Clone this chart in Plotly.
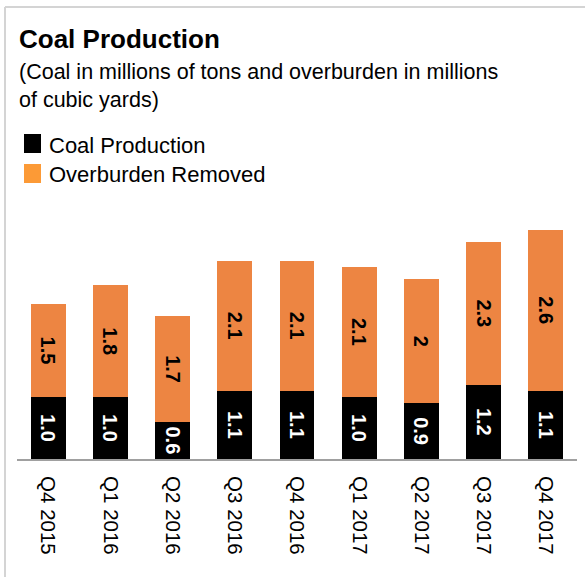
import plotly.graph_objects as go

# Quarterly data
quarters = ["Q4 2015", "Q1 2016", "Q2 2016", "Q3 2016", "Q4 2016",
            "Q1 2017", "Q2 2017", "Q3 2017", "Q4 2017"]
coal_production = [1.0, 1.0, 0.6, 1.1, 1.1, 1.0, 0.9, 1.2, 1.1]        # millions of tons
overburden_removed = [1.5, 1.8, 1.7, 2.1, 2.1, 2.1, 2.0, 2.3, 2.6]     # millions of cubic yards

series_names = ["Coal Production", "Overburden Removed"]
title_text = "Coal Production"
subtitle_lines = ["(Coal in millions of tons and overburden in millions",
                  "of cubic yards)"]

FONT = "Liberation Sans, Arial, Helvetica, sans-serif"
COAL_COLOR = "#000000"
OB_COLOR = "#ED8542"
OB_LEGEND_COLOR = "#FC9A36"

W, H = 585, 577
M_L, M_R, M_T, M_B = 17, 8, 211, 118
PLOT_W = W - M_L - M_R
PLOT_H = H - M_T - M_B


def px_x(px):
    return (px - M_L) / PLOT_W


def px_y(py):
    return (H - M_B - py) / PLOT_H


fig = go.Figure()

fig.add_trace(go.Bar(
    x=quarters, y=coal_production, name=series_names[0],
    marker=dict(color=COAL_COLOR, line=dict(width=0)),
    texttemplate="%{y:.1f}", textposition="inside", insidetextanchor="middle",
    textangle=90, constraintext="none",
    textfont=dict(family=FONT, size=20, color="white", weight="bold"),
    showlegend=False, hoverinfo="skip",
))
fig.add_trace(go.Bar(
    x=quarters, y=overburden_removed, name=series_names[1],
    marker=dict(color=OB_COLOR, line=dict(width=0)),
    texttemplate="%{y}", textposition="inside", insidetextanchor="middle",
    textangle=90, constraintext="none",
    textfont=dict(family=FONT, size=20, color="black", weight="bold"),
    showlegend=False, hoverinfo="skip",
))

annotations = [
    dict(text="<b>" + title_text + "</b>", x=px_x(17), y=px_y(39),
         font=dict(family=FONT, size=26, color="black")),
    dict(text=subtitle_lines[0], x=px_x(17), y=px_y(71.5),
         font=dict(family=FONT, size=21.5, color="black")),
    dict(text=subtitle_lines[1], x=px_x(17), y=px_y(100),
         font=dict(family=FONT, size=21.5, color="black")),
    dict(text=series_names[0], x=px_x(47), y=px_y(145),
         font=dict(family=FONT, size=22, color="black")),
    dict(text=series_names[1], x=px_x(47), y=px_y(174),
         font=dict(family=FONT, size=22, color="black")),
]
for a in annotations:
    a.update(xref="paper", yref="paper", xanchor="left", yanchor="middle",
             showarrow=False, align="left")

shapes = [
    # legend swatches
    dict(type="rect", x0=px_x(24), x1=px_x(41), y0=px_y(134), y1=px_y(153),
         fillcolor=COAL_COLOR, line=dict(width=0)),
    dict(type="rect", x0=px_x(24), x1=px_x(41), y0=px_y(164), y1=px_y(183),
         fillcolor=OB_LEGEND_COLOR, line=dict(width=0)),
    # frame edges
    dict(type="line", x0=px_x(5), x1=px_x(600), y0=px_y(7), y1=px_y(7),
         line=dict(color="#D4D4D4", width=2)),
    dict(type="line", x0=px_x(5), x1=px_x(5), y0=px_y(7), y1=px_y(600),
         line=dict(color="#D4D4D4", width=2)),
]
for s in shapes:
    s.update(xref="paper", yref="paper")

fig.update_layout(
    width=W, height=H,
    margin=dict(l=M_L, r=M_R, t=M_T, b=M_B, pad=0),
    barmode="stack", bargap=0.44,
    paper_bgcolor="white", plot_bgcolor="white",
    font=dict(family=FONT, color="black"),
    annotations=annotations, shapes=shapes,
    xaxis=dict(
        showline=True, linecolor="#A0A0A0", linewidth=2,
        ticks="", tickangle=90, showgrid=False, zeroline=False,
        ticklabelstandoff=11,
        tickfont=dict(family=FONT, size=20.5, color="black"),
        fixedrange=True,
    ),
    yaxis=dict(
        range=[0, 4.0], visible=False, showgrid=False, zeroline=False,
        fixedrange=True,
    ),
    showlegend=False,
)

fig.write_html("out.html", config={"displayModeBar": False})
